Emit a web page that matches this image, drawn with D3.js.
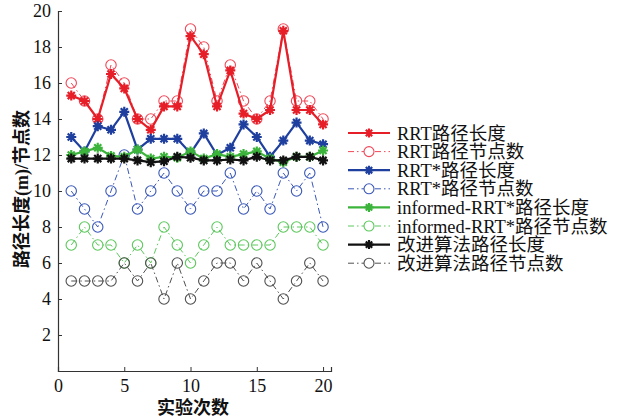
<!DOCTYPE html>
<html><head><meta charset="utf-8">
<script src="https://cdn.jsdelivr.net/npm/d3@7/dist/d3.min.js"></script>
<style>body{margin:0;background:#fff}svg{display:block}</style>
</head><body>
<svg id="c" width="626" height="420"></svg>
<script>
const trials = d3.range(1, 21);
const rrtLen     = [15.3,15.0,14.0,16.5,15.7,14.0,13.4,14.7,14.7,18.6,17.6,14.7,16.7,14.3,14.0,14.5,18.9,14.5,14.5,13.7];
const rrtNodes   = [16,15,14,17,16,14,14,15,15,19,18,15,17,15,14,15,19,15,15,14];
const rrtsLen    = [13.0,12.2,13.6,13.4,14.4,12.3,12.9,12.9,12.9,12.1,13.2,12.0,12.4,13.7,13.0,11.9,12.8,13.8,12.8,12.6];
const rrtsNodes  = [10,9,8,10,12,9,10,11,10,9,10,10,11,9,10,9,11,10,11,8];
const infLen     = [12.0,12.2,12.4,11.95,11.9,12.3,11.8,11.9,11.85,12.2,11.8,12.05,11.9,12.05,12.2,11.8,11.6,11.9,11.9,12.25];
const infNodes   = [7,8,7,7,6,7,6,8,7,6,7,8,7,7,7,7,8,8,8,7];
const impLen     = [11.8,11.8,11.8,11.8,11.8,11.7,11.6,11.65,11.9,11.85,11.7,11.7,11.75,11.7,11.9,11.7,11.7,11.9,11.9,11.7];
const impNodes   = [5,5,5,5,6,5,6,4,6,4,5,6,6,5,6,5,4,5,6,5];
const xTicks = [0,5,10,15,20];
const yTicks = [2,4,6,8,10,12,14,16,18,20];
const seriesNames = ["RRT路径长度","RRT路径节点数","RRT*路径长度","RRT*路径节点数","informed-RRT*路径长度","informed-RRT*路径节点数","改进算法路径长度","改进算法路径节点数"];

const colors = ["#e61e28","#f04858","#1f3f9f","#3a58b8","#3cb43c","#5cc85c","#111111","#505050"];
const series = [
  {v: rrtLen, kind:"len"},{v: rrtNodes, kind:"node"},
  {v: rrtsLen, kind:"len"},{v: rrtsNodes, kind:"node"},
  {v: infLen, kind:"len"},{v: infNodes, kind:"node"},
  {v: impLen, kind:"len"},{v: impNodes, kind:"node"}
].map((s,i)=>({...s, name: seriesNames[i], color: colors[i]}));

const svg = d3.select("#c");
const x = d3.scaleLinear().domain([0,20.6]).range([58, 331]);
const y = d3.scaleLinear().domain([0,20]).range([371, 11]);
const font = "'Liberation Serif','Times New Roman','Noto Sans CJK SC',serif";

// axes
const gx = svg.append("g").attr("transform","translate(0,371)")
  .call(d3.axisBottom(x).tickValues(xTicks).tickSize(-4).tickPadding(8).tickFormat(d3.format("d")));
const gy = svg.append("g").attr("transform","translate(58,0)")
  .call(d3.axisLeft(y).tickValues(yTicks).tickSize(-4).tickPadding(6).tickFormat(d3.format("d")));
[gx,gy].forEach(g=>{
  g.select(".domain").attr("stroke","#333").attr("stroke-width",1.2);
  g.selectAll(".tick line").attr("stroke","#333");
  g.selectAll("text").attr("font-family",font).attr("font-size",18).attr("fill","#111");
});
gy.selectAll("text").attr("dx",-1);

function star(g, cx, cy, r, color){
  const p = d3.path();
  for (let k=0;k<4;k++){
    const a = k*Math.PI/4;
    p.moveTo(cx - r*Math.cos(a), cy - r*Math.sin(a));
    p.lineTo(cx + r*Math.cos(a), cy + r*Math.sin(a));
  }
  g.append("path").attr("d", p.toString()).attr("stroke", color).attr("stroke-width", 2.2).attr("fill","none");
}

const line = d3.line().x((d,i)=>x(trials[i])).y(d=>y(d));
const order = [1,3,5,7,0,2,4,6];
order.forEach(si=>{
  const s = series[si];
  const g = svg.append("g");
  if (s.kind==="len"){
    g.append("path").attr("d", line(s.v)).attr("fill","none").attr("stroke", s.color).attr("stroke-width",2.2);
    s.v.forEach((d,i)=>star(g, x(trials[i]), y(d), 5, s.color));
  } else {
    g.append("path").attr("d", line(s.v)).attr("fill","none").attr("stroke", s.color).attr("stroke-width",1)
      .attr("stroke-dasharray","6,3,1.5,3");
    s.v.forEach((d,i)=>{
      g.append("circle").attr("cx", x(trials[i])).attr("cy", y(d)).attr("r",5.2)
        .attr("fill","none").attr("stroke", s.color).attr("stroke-width",1.1);
    });
  }
});

// legend
const lg = svg.append("g");
series.forEach((s,i)=>{
  const yy = 133 + i*18.6;
  const g = lg.append("g");
  if (s.kind==="len"){
    g.append("line").attr("x1",348).attr("x2",390).attr("y1",yy).attr("y2",yy).attr("stroke",s.color).attr("stroke-width",2.2);
    star(g, 369, yy, 4.5, s.color);
  } else {
    g.append("line").attr("x1",348).attr("x2",390).attr("y1",yy).attr("y2",yy).attr("stroke",s.color).attr("stroke-width",1)
      .attr("stroke-dasharray","6,3,1.5,3");
    g.append("circle").attr("cx",369).attr("cy",yy).attr("r",5).attr("fill","#fff").attr("stroke",s.color).attr("stroke-width",1.1);
  }
  g.append("text").attr("x",397).attr("y",yy).attr("dy","0.36em")
    .attr("font-family",font).attr("font-size",18.5).attr("fill","#111").text(s.name);
});

// axis labels
svg.append("text").attr("x", 193).attr("y", 414).attr("text-anchor","middle")
  .attr("font-family",font).attr("font-size",18).attr("font-weight","bold").attr("fill","#111").text("实验次数");
svg.append("text").attr("transform","translate(28,189) rotate(-90)").attr("text-anchor","middle")
  .attr("font-family",font).attr("font-size",18).attr("font-weight","bold").attr("fill","#111").text("路径长度(m)/节点数");
</script>
</body></html>
